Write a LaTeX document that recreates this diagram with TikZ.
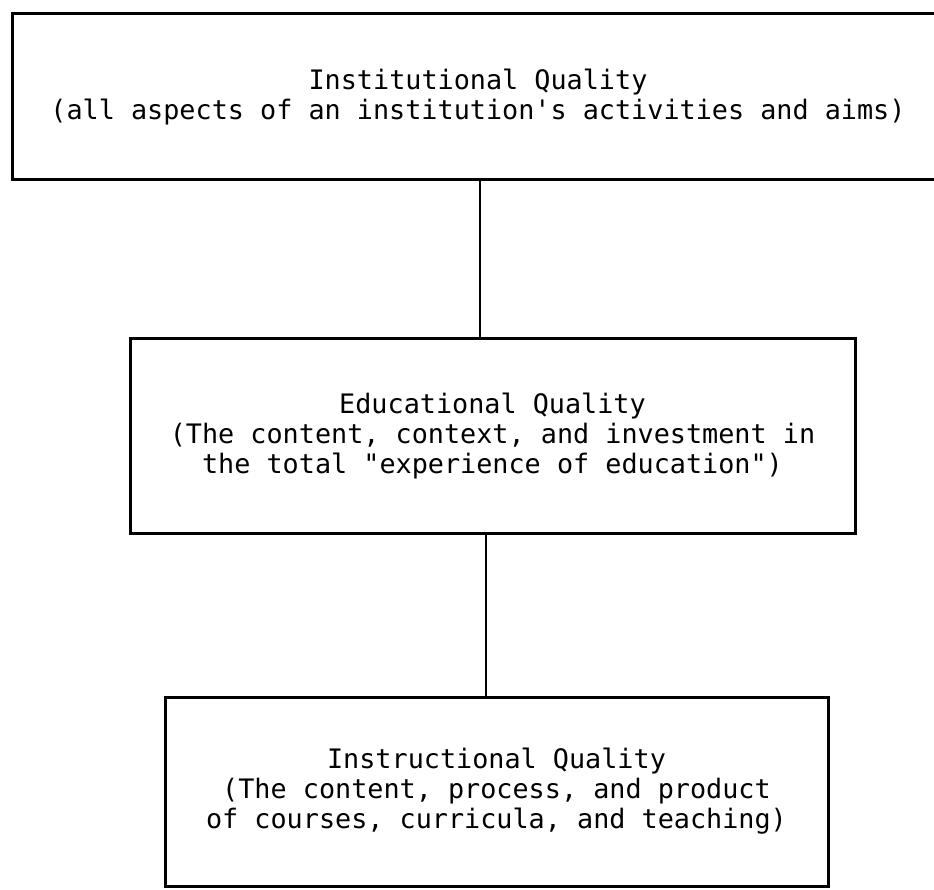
\documentclass[tikz,border=0pt]{standalone}
\usepackage{fontspec}
\newfontfamily\twfont{DejaVu Sans Mono}
\begin{document}
\begin{tikzpicture}[x=1pt,y=-1pt,
  qbox/.style={draw=black, line width=3pt, inner sep=0pt, align=center,
    font=\twfont\fontsize{26.8}{30}\selectfont},
  conn/.style={draw=black, line width=2.5pt}]
\useasboundingbox (0,0) rectangle (934,890);
\clip (0,0) rectangle (934,890);
\node[qbox, minimum width=932pt, minimum height=166pt] (top) at (478,97)
  {Institutional Quality\\(all aspects of an institution's activities and aims)};
\node[qbox, minimum width=725pt, minimum height=195pt] (mid) at (492.5,436)
  {Educational Quality\\(The content, context, and investment in\\the total "experience of education")};
\node[qbox, minimum width=663pt, minimum height=189pt] (bot) at (496.5,791.5)
  {Instructional Quality\\(The content, process, and product\\of courses, curricula, and teaching)};
\coordinate (c1) at (480,0);
\coordinate (c2) at (486,0);
\draw[conn] (top.south -| c1) -- (mid.north -| c1);
\draw[conn] (mid.south -| c2) -- (bot.north -| c2);
\end{tikzpicture}
\end{document}
